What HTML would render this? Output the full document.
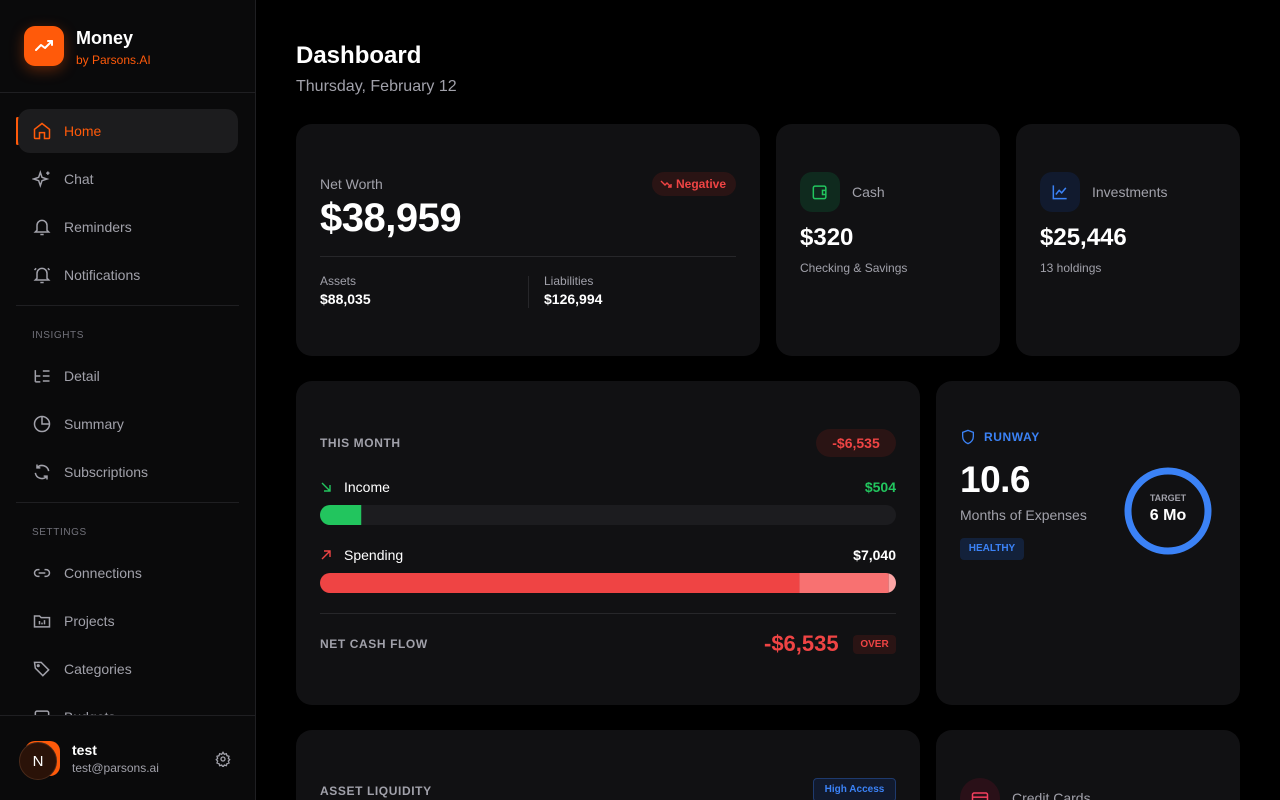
<!DOCTYPE html>
<html><head><meta charset="utf-8">
<style>
*{box-sizing:border-box;margin:0;padding:0}
html,body{width:1280px;height:800px;overflow:hidden}
body{background:#000;font-family:"Liberation Sans",sans-serif;color:#fff;position:relative}
.abs{position:absolute}
.side{left:0;top:0;width:256px;height:800px;background:#0a0a0b;border-right:1px solid #1f1f22;overflow:hidden}
.nav{position:absolute;left:18px;width:220px;height:44px;border-radius:12px;display:flex;align-items:center;font-size:14px;color:#a1a1aa}
.nav svg{position:absolute;left:14px;top:12px}
.nav span{position:absolute;left:46px}
.sec{position:absolute;left:32px;font-size:10px;color:#71717a;letter-spacing:.6px}
.hr{position:absolute;left:16px;width:223px;height:1px;background:#1f1f22}
.card{position:absolute;background:#111113;border-radius:16px;overflow:hidden}
.g{color:#a1a1aa}
</style></head><body>
<div class="abs side">
 <div class="abs" style="left:24px;top:26px;width:40px;height:40px;border-radius:11px;background:#ff5a0a;box-shadow:0 4px 14px rgba(255,90,10,.35)">
  <svg width="40" height="40" viewBox="0 0 40 40"><polyline points="12,24 17,19 21,22 28,15" fill="none" stroke="#fff" stroke-width="2" stroke-linecap="round" stroke-linejoin="round"/><polyline points="24,15 28,15 28,19" fill="none" stroke="#fff" stroke-width="2" stroke-linecap="round" stroke-linejoin="round"/></svg>
 </div>
 <div class="abs" style="left:76px;top:28px;font-size:18px;font-weight:bold">Money</div>
 <div class="abs" style="left:76px;top:53px;font-size:12px;color:#ff5a0a">by Parsons.AI</div>
 <div class="abs" style="left:0;top:92px;width:256px;height:1px;background:#1f1f22"></div>
 <div class="abs" style="left:16px;top:117px;width:3px;height:28px;background:#ff5a0a;border-radius:2px"></div>
 <div class="nav" style="top:109px;background:#1c1c1e;color:#ff5a0a"><svg width="20" height="20" viewBox="0 0 24 24" fill="none" stroke="#ff5a0a" stroke-width="1.8"><path d="M3 10l9-7 9 7v10a1 1 0 0 1-1 1h-5v-7H9v7H4a1 1 0 0 1-1-1z"/></svg><span>Home</span></div>
 <div class="nav" style="top:157px"><svg width="20" height="20" viewBox="0 0 24 24" fill="none" stroke="#a1a1aa" stroke-width="1.8"><path d="M10 4l2 6 6 2-6 2-2 6-2-6-6-2 6-2z"/><path d="M19 3v4M17 5h4"/></svg><span>Chat</span></div>
 <div class="nav" style="top:205px"><svg width="20" height="20" viewBox="0 0 24 24" fill="none" stroke="#a1a1aa" stroke-width="1.8"><path d="M6 16V10a6 6 0 0 1 12 0v6l2 2H4z"/><path d="M10 21h4"/></svg><span>Reminders</span></div>
 <div class="nav" style="top:253px"><svg width="20" height="20" viewBox="0 0 24 24" fill="none" stroke="#a1a1aa" stroke-width="1.8"><path d="M6 16V10a6 6 0 0 1 12 0v6l2 2H4z"/><path d="M10 21h4M3 6l2-2M21 6l-2-2"/></svg><span>Notifications</span></div>
 <div class="hr" style="top:305px"></div>
 <div class="sec" style="top:330px">INSIGHTS</div>
 <div class="nav" style="top:354px"><svg width="20" height="20" viewBox="0 0 24 24" fill="none" stroke="#a1a1aa" stroke-width="1.8"><path d="M4 5v14M4 12h6M4 19h6M13 6h8M13 12h8M13 18h8"/></svg><span>Detail</span></div>
 <div class="nav" style="top:402px"><svg width="20" height="20" viewBox="0 0 24 24" fill="none" stroke="#a1a1aa" stroke-width="1.8"><circle cx="12" cy="12" r="9"/><path d="M12 3v9h9"/></svg><span>Summary</span></div>
 <div class="nav" style="top:450px"><svg width="20" height="20" viewBox="0 0 24 24" fill="none" stroke="#a1a1aa" stroke-width="1.8"><path d="M20 11a8 8 0 0 0-14-4M4 13a8 8 0 0 0 14 4M6 3v4h4M18 21v-4h-4"/></svg><span>Subscriptions</span></div>
 <div class="hr" style="top:502px"></div>
 <div class="sec" style="top:527px">SETTINGS</div>
 <div class="nav" style="top:551px"><svg width="20" height="20" viewBox="0 0 24 24" fill="none" stroke="#a1a1aa" stroke-width="1.8"><path d="M9 8H7a4 4 0 0 0 0 8h2M15 8h2a4 4 0 0 1 0 8h-2M8 12h8"/></svg><span>Connections</span></div>
 <div class="nav" style="top:599px"><svg width="20" height="20" viewBox="0 0 24 24" fill="none" stroke="#a1a1aa" stroke-width="1.8"><path d="M3 6h6l2 2h10v11H3z"/><path d="M9 16v-4M12 16v-2M15 16v-5"/></svg><span>Projects</span></div>
 <div class="nav" style="top:647px"><svg width="20" height="20" viewBox="0 0 24 24" fill="none" stroke="#a1a1aa" stroke-width="1.8"><path d="M3 4h8l9 9-7 7-9-9z"/><circle cx="7.5" cy="8" r="1"/></svg><span>Categories</span></div>
 <div class="nav" style="top:695px"><svg width="20" height="20" viewBox="0 0 24 24" fill="none" stroke="#a1a1aa" stroke-width="1.8"><rect x="4" y="5" width="16" height="14" rx="2"/></svg><span>Budgets</span></div>
 <div class="abs" style="left:0;top:715px;width:256px;height:85px;background:#0a0a0b;border-top:1px solid #1f1f22">
  <div class="abs" style="left:25px;top:25px;width:35px;height:35px;border-radius:10px;background:#ff5a0a"></div>
  <div class="abs" style="left:19px;top:26px;width:38px;height:38px;border-radius:50%;background:#2a1208;border:1px solid #4a2a1a;display:flex;align-items:center;justify-content:center;font-size:15px">N</div>
  <div class="abs" style="left:72px;top:26px;font-size:14px;font-weight:bold">test</div>
  <div class="abs g" style="left:72px;top:45px;font-size:12px">test@parsons.ai</div>
  <svg class="abs" style="left:215px;top:35px" width="16" height="16" viewBox="0 0 24 24" fill="none" stroke="#a1a1aa" stroke-width="2"><circle cx="12" cy="12" r="3"/><path d="M12 2l2 3 3-1 1 3 3 1-1 3 2 2-2 2 1 3-3 1-1 3-3-1-2 3-2-3-3 1-1-3-3-1 1-3-2-2 2-2-1-3 3-1 1-3 3 1z"/></svg>
 </div>
</div>

<div class="abs" style="left:296px;top:42px;font-size:24px;font-weight:bold">Dashboard</div>
<div class="abs g" style="left:296px;top:78px;font-size:16px">Thursday, February 12</div>

<div class="card" style="left:296px;top:124px;width:464px;height:232px">
 <div class="abs g" style="left:24px;top:52px;font-size:14px">Net Worth</div>
 <div class="abs" style="left:356px;top:48px;width:84px;height:24px;border-radius:12px;background:#2a1414;color:#ef4444;font-size:12px;font-weight:bold;line-height:24px;padding-left:24px">Negative
  <svg class="abs" style="left:8px;top:6px" width="12" height="12" viewBox="0 0 12 12" fill="none" stroke="#ef4444" stroke-width="1.4"><polyline points="1,3 5,7 7,5 11,9"/><polyline points="8,9 11,9 11,6"/></svg></div>
 <div class="abs" style="left:24px;top:72px;font-size:40px;font-weight:bold;letter-spacing:-0.5px">$38,959</div>
 <div class="abs" style="left:24px;top:132px;width:416px;height:1px;background:#27272a"></div>
 <div class="abs g" style="left:24px;top:150px;font-size:12px">Assets</div>
 <div class="abs" style="left:24px;top:167px;font-size:14px;font-weight:bold">$88,035</div>
 <div class="abs" style="left:232px;top:152px;width:1px;height:32px;background:#27272a"></div>
 <div class="abs g" style="left:248px;top:150px;font-size:12px">Liabilities</div>
 <div class="abs" style="left:248px;top:167px;font-size:14px;font-weight:bold">$126,994</div>
</div>

<div class="card" style="left:776px;top:124px;width:224px;height:232px">
 <div class="abs" style="left:24px;top:48px;width:40px;height:40px;border-radius:12px;background:#0f2a1e"><svg style="margin:10px" width="20" height="20" viewBox="0 0 24 24" fill="none" stroke="#22c55e" stroke-width="1.8"><rect x="4" y="5" width="15" height="15" rx="2"/><path d="M19 10h-4v5h4"/></svg></div>
 <div class="abs g" style="left:76px;top:60px;font-size:14px">Cash</div>
 <div class="abs" style="left:24px;top:100px;font-size:24px;font-weight:bold">$320</div>
 <div class="abs g" style="left:24px;top:137px;font-size:12px">Checking &amp; Savings</div>
</div>

<div class="card" style="left:1016px;top:124px;width:224px;height:232px">
 <div class="abs" style="left:24px;top:48px;width:40px;height:40px;border-radius:12px;background:#111a2e"><svg style="margin:10px" width="20" height="20" viewBox="0 0 24 24" fill="none" stroke="#3b82f6" stroke-width="1.8"><path d="M4 4v16h16"/><polyline points="7,15 11,10 14,13 19,7"/></svg></div>
 <div class="abs g" style="left:76px;top:60px;font-size:14px">Investments</div>
 <div class="abs" style="left:24px;top:100px;font-size:24px;font-weight:bold">$25,446</div>
 <div class="abs g" style="left:24px;top:137px;font-size:12px">13 holdings</div>
</div>

<div class="card" style="left:296px;top:381px;width:624px;height:324px">
 <div class="abs g" style="left:24px;top:55px;font-size:12px;letter-spacing:.6px;font-weight:bold">THIS MONTH</div>
 <div class="abs" style="left:520px;top:48px;width:80px;height:28px;border-radius:14px;background:#2a1414;color:#ef4444;font-size:14px;font-weight:bold;line-height:28px;text-align:center">-$6,535</div>
 <svg class="abs" style="left:24px;top:100px" width="12" height="12" viewBox="0 0 12 12" fill="none" stroke="#22c55e" stroke-width="1.4"><path d="M2 2l8 8M10 4v6H4"/></svg>
 <div class="abs" style="left:48px;top:98px;font-size:14px">Income</div>
 <div class="abs" id="inc-val" style="right:24px;top:98px;font-size:14px;font-weight:bold;color:#22c55e"></div>
 <svg class="abs" id="bars" style="left:24px;top:124px" width="576" height="88"></svg>
 <svg class="abs" style="left:24px;top:168px" width="12" height="12" viewBox="0 0 12 12" fill="none" stroke="#ef4444" stroke-width="1.4"><path d="M2 10l8-8M4 2h6v6"/></svg>
 <div class="abs" style="left:48px;top:166px;font-size:14px">Spending</div>
 <div class="abs" id="spd-val" style="right:24px;top:166px;font-size:14px;font-weight:bold"></div>
 <div class="abs" style="left:24px;top:232px;width:576px;height:1px;background:#27272a"></div>
 <div class="abs g" style="left:24px;top:256px;font-size:12px;letter-spacing:.6px;font-weight:bold">NET CASH FLOW</div>
 <div class="abs" style="left:468px;top:250px;font-size:22px;font-weight:bold;color:#ef4444">-$6,535</div>
 <div class="abs" style="left:557px;top:254px;width:43px;height:19px;border-radius:4px;background:#2a1414;color:#ef4444;font-size:10px;font-weight:bold;line-height:19px;text-align:center">OVER</div>
</div>

<div class="card" style="left:936px;top:381px;width:304px;height:324px">
 <svg class="abs" style="left:24px;top:48px" width="16" height="16" viewBox="0 0 24 24" fill="none" stroke="#3b82f6" stroke-width="2"><path d="M12 2l8 3v6c0 5-3.5 9-8 11-4.5-2-8-6-8-11V5z"/></svg>
 <div class="abs" style="left:48px;top:49px;font-size:12px;font-weight:bold;color:#3b82f6;letter-spacing:.6px">RUNWAY</div>
 <div class="abs" style="left:24px;top:78px;font-size:37px;font-weight:bold;letter-spacing:-0.5px">10.6</div>
 <div class="abs g" style="left:24px;top:126px;font-size:14px">Months of Expenses</div>
 <div class="abs" style="left:24px;top:157px;width:64px;height:22px;border-radius:4px;background:#13213a;color:#3b82f6;font-size:10px;font-weight:bold;line-height:22px;text-align:center">HEALTHY</div>
 <svg class="abs" style="left:188px;top:86px" width="88" height="88"><circle cx="44" cy="44" r="40" fill="none" stroke="#3b82f6" stroke-width="7"/></svg>
 <div class="abs g" style="left:188px;top:112px;width:88px;text-align:center;font-size:9px;font-weight:bold">TARGET</div>
 <div class="abs" style="left:188px;top:126px;width:88px;text-align:center;font-size:16px;font-weight:bold">6 Mo</div>
</div>

<div class="card" style="left:296px;top:730px;width:624px;height:70px;border-radius:16px 16px 0 0">
 <div class="abs g" style="left:24px;top:54px;font-size:12px;letter-spacing:.6px;font-weight:bold">ASSET LIQUIDITY</div>
 <div class="abs" style="left:517px;top:48px;width:83px;height:24px;border-radius:4px;background:#111a2e;border:1px solid #1e3a6e;color:#3b82f6;font-size:10px;font-weight:bold;line-height:22px;text-align:center">High Access</div>
</div>
<div class="card" style="left:936px;top:730px;width:304px;height:70px;border-radius:16px 16px 0 0">
 <div class="abs" style="left:24px;top:48px;width:40px;height:40px;border-radius:20px;background:#2a1018"><svg style="margin:10px" width="20" height="20" viewBox="0 0 24 24" fill="none" stroke="#f43f5e" stroke-width="1.8"><rect x="3" y="6" width="18" height="13" rx="2"/><path d="M3 11h18"/></svg></div>
 <div class="abs g" style="left:76px;top:60px;font-size:14px">Credit Cards</div>
</div>

<script>
const incomeValue = 504;
const spendingSegments = [5860, 1090, 90];
const spendingLabel = 7040;
const barMax = 7040;
const segColors = ['#ef4444','#f87171','#fca5a5'];
const svg = document.getElementById('bars');
const NS = 'http://www.w3.org/2000/svg';
const W = 576;
const x = v => v / barMax * W;
function fmt(v){return '$' + v.toLocaleString('en-US');}
document.getElementById('inc-val').textContent = fmt(incomeValue);
document.getElementById('spd-val').textContent = fmt(spendingLabel);
const defs = document.createElementNS(NS,'defs');
defs.innerHTML = '<clipPath id="c1"><rect x="0" y="0" width="576" height="20" rx="10"/></clipPath><clipPath id="c2"><rect x="0" y="68" width="576" height="20" rx="10"/></clipPath>';
svg.appendChild(defs);
const track = document.createElementNS(NS,'rect');


track.setAttribute('x',0);track.setAttribute('y',0);track.setAttribute('width',W);track.setAttribute('height',20);track.setAttribute('rx',10);track.setAttribute('fill','#1c1c1f');
svg.appendChild(track);
const inc = document.createElementNS(NS,'rect');


inc.setAttribute('x',0);inc.setAttribute('y',0);inc.setAttribute('width',x(incomeValue));inc.setAttribute('height',20);inc.setAttribute('fill','#22c55e');inc.setAttribute('clip-path','url(#c1)');
svg.appendChild(inc);
let acc = 0;
spendingSegments.forEach((v,i)=>{
  const r = document.createElementNS(NS,'rect');
  
  
  r.setAttribute('x',x(acc));r.setAttribute('y',68);r.setAttribute('width',x(v));r.setAttribute('height',20);
  r.setAttribute('fill',segColors[i]);r.setAttribute('clip-path','url(#c2)');
  svg.appendChild(r);
  acc += v;
});
</script>
</body></html>
